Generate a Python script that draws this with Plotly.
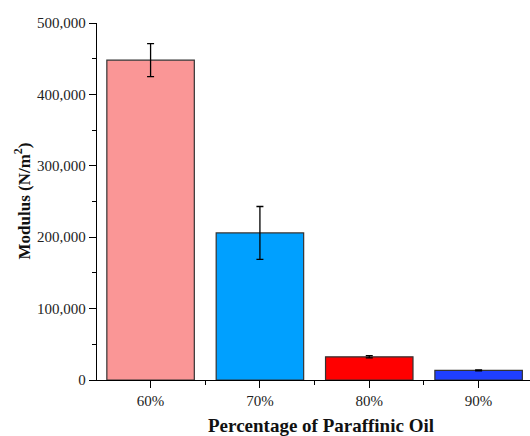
import plotly.graph_objects as go

categories = ["60%", "70%", "80%", "90%"]
modulus = [448000, 206000, 32500, 13500]
errors = [23000, 37000, 1500, 800]
bar_colors = ["#FA9696", "#00A0FF", "#FF0000", "#1F3FFF"]
y_ticks = [0, 100000, 200000, 300000, 400000, 500000]
y_tick_labels = ["0", "100,000", "200,000", "300,000", "400,000", "500,000"]

idx = list(range(len(categories)))

fig = go.Figure()
fig.add_trace(go.Bar(
    x=idx, y=modulus, width=0.8,
    marker=dict(color=bar_colors, line=dict(color="#333333", width=1.2)),
    error_y=dict(type="data", array=errors, visible=True, color="black",
                 thickness=1.3, width=3.5),
))

font_family = "Liberation Serif"
fig.update_layout(
    width=530, height=436,
    margin=dict(l=97, r=0, t=23, b=56),
    paper_bgcolor="white", plot_bgcolor="white",
    showlegend=False,
    font=dict(family=font_family, size=15, color="#222222"),
    xaxis=dict(
        range=[-0.49, 3.47], tickvals=idx, ticktext=categories,
        showline=True, linecolor="black", linewidth=1.3,
        ticks="outside", ticklen=7, tickwidth=1.2, tickcolor="black",
        minor=dict(tickvals=[i + 0.5 for i in idx], ticks="outside",
                   ticklen=3.5, tickwidth=1.2, tickcolor="black"),
        showgrid=False, zeroline=False,
        tickfont=dict(size=15, family=font_family),
    ),
    yaxis=dict(
        range=[0, 500000], tickvals=y_ticks, ticktext=y_tick_labels,
        showline=True, linecolor="black", linewidth=1.3,
        ticks="outside", ticklen=7, tickwidth=1.2, tickcolor="black",
        minor=dict(dtick=50000, ticks="outside", ticklen=3.5,
                   tickwidth=1.2, tickcolor="black"),
        showgrid=False, zeroline=False,
        tickfont=dict(size=15, family=font_family),
    ),
    annotations=[
        dict(text="<b>Percentage of Paraffinic Oil</b>", xref="paper", yref="paper",
             x=(321 - 97) / (530 - 97), y=-(425 - 380) / (380 - 23),
             xanchor="center", yanchor="middle", showarrow=False,
             font=dict(size=19, family=font_family, color="#111111")),
        dict(text="<b>Modulus (N/m<sup>2</sup>)</b>", xref="paper", yref="paper",
             x=-(97 - 22) / (530 - 97), y=0.5, textangle=-90,
             xanchor="center", yanchor="middle", showarrow=False,
             font=dict(size=17, family=font_family, color="#111111")),
    ],
)

fig.write_html("out.html")
